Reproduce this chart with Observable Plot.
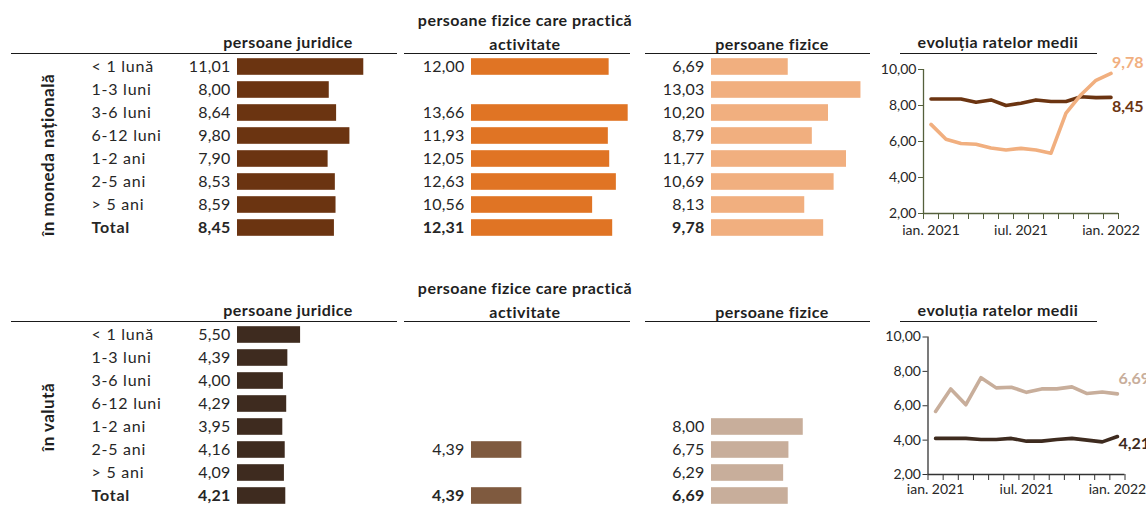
<!DOCTYPE html>
<html><head><meta charset="utf-8">
<script src="https://cdn.jsdelivr.net/npm/d3@7"></script>
<script src="https://cdn.jsdelivr.net/npm/@observablehq/plot@0.6"></script>
<style>
body{margin:0;background:#fff;}
#root{position:relative;width:1146px;height:506px;overflow:hidden;font-family:Lato, sans-serif;color:#262626;background:#fff;}
.hdr{position:absolute;font-weight:bold;font-size:16px;letter-spacing:0.45px;text-align:center;width:300px;line-height:24px;white-space:nowrap;color:#1f1f1f;}
.hl{position:absolute;height:0;border-top:1.6px solid #1a1a1a;}
.rot{position:absolute;font-weight:bold;font-size:17px;letter-spacing:0.5px;white-space:nowrap;color:#1f1f1f;transform:translate(-50%,-50%) rotate(-90deg);}
</style></head><body><div id="root"></div>
<script>
// ---------- data ----------
const terms = ["< 1 lună","1-3 luni","3-6 luni","6-12 luni","1-2 ani","2-5 ani","> 5 ani","Total"];
const natJuridice   = [11.01, 8.00, 8.64, 9.80, 7.90, 8.53, 8.59, 8.45];
const natActivitate = [12.00, null, 13.66, 11.93, 12.05, 12.63, 10.56, 12.31];
const natFizice     = [6.69, 13.03, 10.20, 8.79, 11.77, 10.69, 8.13, 9.78];
const valJuridice   = [5.50, 4.39, 4.00, 4.29, 3.95, 4.16, 4.09, 4.21];
const valActivitate = [null, null, null, null, null, 4.39, null, 4.39];
const valFizice     = [null, null, null, null, 8.00, 6.75, 6.29, 6.69];

const months = ["ian. 2021","feb. 2021","mar. 2021","apr. 2021","mai 2021","iun. 2021","iul. 2021","aug. 2021","sep. 2021","oct. 2021","nov. 2021","dec. 2021","ian. 2022"];
const monthTicks = ["ian. 2021","iul. 2021","ian. 2022"];
const natEvolJuridice = [8.36, 8.36, 8.36, 8.18, 8.31, 8.00, 8.13, 8.31, 8.22, 8.22, 8.49, 8.44, 8.45];
const natEvolFizice   = [6.95, 6.13, 5.89, 5.85, 5.64, 5.53, 5.62, 5.53, 5.35, 7.58, 8.60, 9.40, 9.78];
const valEvolJuridice = [4.10, 4.10, 4.10, 4.04, 4.04, 4.10, 3.94, 3.94, 4.04, 4.10, 4.00, 3.90, 4.21];
const valEvolFizice   = [5.67, 6.98, 6.06, 7.63, 7.04, 7.08, 6.78, 6.98, 6.98, 7.10, 6.71, 6.80, 6.69];
const yTicks = [2, 4, 6, 8, 10];

const headers = {
  juridice: "persoane juridice",
  activitate: ["persoane fizice care practică", "activitate"],
  fizice: "persoane fizice",
  evol: "evoluția ratelor medii"
};
const sectionTitles = ["în moneda națională", "în valută"];

// ---------- styles ----------
const TEXT = "#262626";
const PX = 11.47;   // pixels per unit on bar charts
const XMAX = 14;
const ROW_STEP = 23.4;
const ROW_A = 53.8;
const FONT = "Lato, sans-serif";
const fmt = v => d3.format(".2f")(v).replace(".", ",");
const root = document.getElementById("root");
const isTot = d => d.term === "Total";

function place(el, left, top) {
  el.style.position = "absolute";
  el.style.left = left + "px";
  el.style.top = top + "px";
  root.append(el);
}
const yBand = {type: "band", domain: terms, range: [ROW_A, ROW_A + terms.length * ROW_STEP], padding: 0, axis: null};

function rowLabels(top) {
  const rows = terms.map(t => ({term: t}));
  const plot = Plot.plot({
    width: 100, height: 250,
    marginLeft: 11, marginRight: 0, marginTop: 0, marginBottom: 0,
    y: yBand,
    style: {fontFamily: FONT, overflow: "visible", background: "transparent", letterSpacing: "0.75px"},
    marks: [
      Plot.text(rows.filter(d => !isTot(d)), {y: "term", text: "term", frameAnchor: "left", textAnchor: "start", fontSize: 16, fill: TEXT}),
      Plot.text(rows.filter(isTot), {y: "term", text: "term", frameAnchor: "left", textAnchor: "start", fontSize: 16, fontWeight: "bold", fill: TEXT})
    ]
  });
  place(plot, 80, top);
}

function barPanel(values, color, svgLeft, originX, svgWidth, top) {
  const data = terms.map((t, i) => ({term: t, value: values[i]})).filter(d => d.value != null);
  const o = originX - svgLeft;
  const plot = Plot.plot({
    width: svgWidth, height: 250,
    marginLeft: 0, marginRight: 0, marginTop: 0, marginBottom: 0,
    x: {domain: [0, XMAX], range: [o, o + XMAX * PX], axis: null},
    y: yBand,
    style: {fontFamily: FONT, overflow: "visible", background: "transparent", letterSpacing: "0.2px"},
    marks: [
      Plot.barX(data, {x: "value", y: "term", fill: color, insetTop: 3.2, insetBottom: 3.2}),
      Plot.text(data.filter(d => !isTot(d)), {x: () => 0, y: "term", text: d => fmt(d.value), textAnchor: "end", dx: -7, fontSize: 16, fill: TEXT}),
      Plot.text(data.filter(isTot), {x: () => 0, y: "term", text: d => fmt(d.value), textAnchor: "end", dx: -7, fontSize: 16, fontWeight: "bold", fill: TEXT})
    ]
  });
  place(plot, svgLeft, top);
}

function lineChart(sA, cA, dyA, sB, cB, dyB, cfg, top) {
  const mk = s => months.map((m, i) => ({month: m, i: months.indexOf(m), value: s[i]}));
  const A = mk(sA), B = mk(sB);
  const xDom = [-0.5, months.length - 0.5];
  const plot = Plot.plot({
    width: 286, height: cfg.height,
    marginLeft: cfg.ml, marginRight: cfg.mr, marginTop: cfg.mt, marginBottom: cfg.mb,
    x: {domain: xDom},
    y: {domain: [2, 10]},
    style: {fontFamily: FONT, overflow: "visible", background: "transparent"},
    marks: [
      Plot.axisY({ticks: yTicks, tickFormat: fmt, tickSize: 5, tickPadding: 2, stroke: cfg.axis, fill: TEXT, fontSize: 14, label: null}),
      Plot.axisX({ticks: d3.range(xDom[0], xDom[1] + 0.01, 1), tickSize: 6, tickFormat: () => "", stroke: cfg.axis, label: null}),
      Plot.axisX({ticks: monthTicks.map(m => months.indexOf(m)), tickSize: 0, tickPadding: cfg.pad, tickFormat: i => months[i], fill: TEXT, fontSize: 14, label: null}),
      Plot.ruleX([xDom[0]], {stroke: cfg.axis, strokeWidth: 1.3}),
      Plot.ruleY([2], {stroke: cfg.axis, strokeWidth: 1.3}),
      Plot.line(A, {x: "i", y: "value", stroke: cA, strokeWidth: 3.6, strokeLinejoin: "round"}),
      Plot.line(B, {x: "i", y: "value", stroke: cB, strokeWidth: 3.6, strokeLinejoin: "round"}),
      Plot.text(A, Plot.selectLast({x: "i", y: "value", text: d => fmt(d.value), textAnchor: "start", dx: cfg.dx, dy: dyA, fill: cA, fontWeight: "bold", fontSize: 16})),
      Plot.text(B, Plot.selectLast({x: "i", y: "value", text: d => fmt(d.value), textAnchor: "start", dx: cfg.dx, dy: dyB, fill: cB, fontWeight: "bold", fontSize: 16}))
    ]
  });
  place(plot, 860, top);
}

function header(text, cx, cy) {
  const d = document.createElement("div");
  d.className = "hdr";
  const arr = Array.isArray(text) ? text : [text];
  arr.forEach((t, k) => { if (k) d.append(document.createElement("br")); d.append(t); });
  d.style.left = (cx - 150) + "px";
  d.style.top = (cy - 12) + "px";
  root.append(d);
}
function hline(x0, x1, y) {
  const d = document.createElement("div");
  d.className = "hl";
  d.style.left = x0 + "px"; d.style.width = (x1 - x0) + "px"; d.style.top = y + "px";
  root.append(d);
}
function rotLabel(text, cx, cy) {
  const d = document.createElement("div");
  d.className = "rot";
  d.textContent = text;
  d.style.left = cx + "px"; d.style.top = cy + "px";
  root.append(d);
}

function section(top, title, titleCy, jur, act, fiz, colors, evol, cfg) {
  header(headers.juridice, 288, top + 42);
  header(headers.activitate, 525, top + 20);
  header(headers.fizice, 772, top + 44);
  header(headers.evol, 998, top + 42);
  hline(11, 397, top + 53);
  hline(404, 630, top + 53);
  hline(645, 870, top + 53);
  hline(900, 1097, top + 53);
  rotLabel(title, 47, top + titleCy);
  rowLabels(top);
  barPanel(jur, colors[0], 160, 237, 240, top);
  barPanel(act, colors[1], 400, 471, 240, top);
  barPanel(fiz, colors[2], 640, 711, 230, top);
  lineChart(evol[0], colors[0], evol[2], evol[1], colors[2], evol[3], cfg, top);
}

section(0, sectionTitles[0], 155, natJuridice, natActivitate, natFizice,
  ["#6B3411", "#E07424", "#F1AF7F"],
  [natEvolJuridice, natEvolFizice, 9, -10.5],
  {height: 250, ml: 63, mr: 28, mt: 69, mb: 37, pad: 12, axis: "#55603c", dx: 1});

section(268, sectionTitles[1], 149, valJuridice, valActivitate, valFizice,
  ["#3E2B1F", "#7F5A3F", "#C8AE9B"],
  [valEvolJuridice, valEvolFizice, 7, -15],
  {height: 238, ml: 67.5, mr: 21.5, mt: 68.5, mb: 32, pad: 10, axis: "#333333", dx: 1});
</script>
</body></html>
